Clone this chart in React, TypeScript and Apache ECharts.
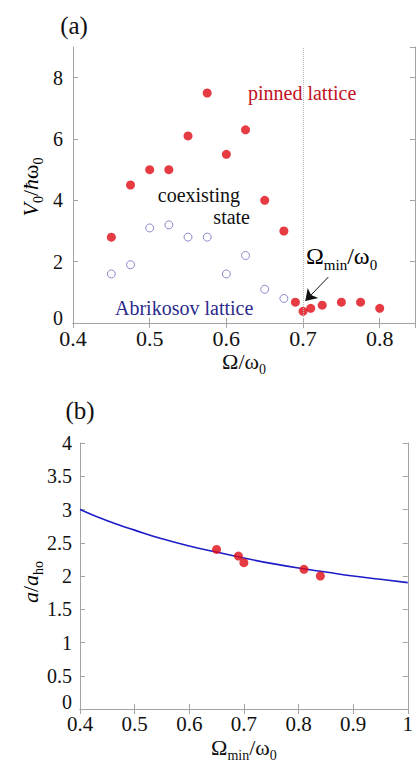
import { useEffect, useRef } from 'react';
import * as echarts from 'echarts';

// Panel (a): critical pinning potential vs rotation frequency
const pinnedX = [0.45, 0.475, 0.5, 0.525, 0.55, 0.575, 0.6, 0.625, 0.65, 0.675, 0.69, 0.7, 0.71, 0.725, 0.75, 0.775, 0.8];
const pinnedV = [2.8, 4.5, 5.0, 5.0, 6.1, 7.5, 5.5, 6.3, 4.0, 3.0, 0.68, 0.38, 0.48, 0.58, 0.68, 0.68, 0.48];
const abriX = [0.45, 0.475, 0.5, 0.525, 0.55, 0.575, 0.6, 0.625, 0.65, 0.675];
const abriV = [1.6, 1.9, 3.1, 3.2, 2.8, 2.8, 1.6, 2.2, 1.1, 0.8];
const omegaMinLine = 0.7;
const arrowFrom = [0.733, 1.5];
const arrowTo = [0.703, 0.72];

// Panel (b): lattice spacing vs Omega_min
const omegaMinX = [0.65, 0.69, 0.7, 0.81, 0.84];
const latticeA = [2.4, 2.3, 2.2, 2.1, 2.0];
const curveX = [0.4, 0.45, 0.5, 0.55, 0.6, 0.65, 0.7, 0.75, 0.8, 0.85, 0.9, 0.95, 1.0];
const curveA = [3.0, 2.83, 2.69, 2.56, 2.45, 2.36, 2.27, 2.19, 2.12, 2.06, 2.0, 1.95, 1.9];

const SERIF = 'Liberation Serif';
const AXIS_COLOR = '#a3a3a3';
const RED = '#e00a14';

export default function App() {
  const ref = useRef<HTMLDivElement>(null);

  useEffect(() => {
    if (!ref.current) return;
    const chart = echarts.init(ref.current, null, { renderer: 'svg' });

    const axisCommon = (extra: any) => ({
      type: 'value',
      nameMoveOverlap: false,
      axisLine: { show: true, lineStyle: { color: AXIS_COLOR, width: 1 } },
      axisTick: { show: true, inside: true, length: 5, lineStyle: { color: AXIS_COLOR } },
      splitLine: { show: false },
      ...extra,
    });

    const subRich = (main: number, sub: number, lh: number) => ({
      m: { fontFamily: SERIF, fontSize: main, lineHeight: lh, color: '#111' },
      i: { fontFamily: SERIF, fontSize: main, lineHeight: lh, color: '#111', fontStyle: 'italic' },
      s: { fontFamily: SERIF, fontSize: sub, lineHeight: sub, color: '#111', verticalAlign: 'bottom' },
    });

    const zeroLift = (pad: number) => ({
      z: { fontFamily: SERIF, fontSize: 20, color: '#111', padding: [0, 0, pad, 0] },
    });

    const option: any = {
      animation: false,
      textStyle: { fontFamily: SERIF },
      grid: [
        { left: 73, top: 47, width: 342, height: 276 },
        { left: 80, top: 443, width: 333, height: 266 },
      ],
      xAxis: [
        axisCommon({
          gridIndex: 0, position: 'bottom', min: 0.4, max: 0.846, interval: 0.1,
          axisLabel: { show: true, fontFamily: SERIF, fontSize: 22, color: '#111', margin: 4, showMaxLabel: false },
          name: '{m|Ω/ω}{s|0}', nameLocation: 'middle', nameGap: 23,
          nameTextStyle: { rich: subRich(22, 14, 30) },
        }),
        axisCommon({
          gridIndex: 0, position: 'top', min: 0.4, max: 0.846, interval: 0.1,
          axisLabel: { show: false },
        }),
        axisCommon({
          gridIndex: 1, position: 'bottom', min: 0.4, max: 1, interval: 0.1,
          axisLabel: { show: true, fontFamily: SERIF, fontSize: 21, color: '#111', margin: 4 },
          name: '{m|Ω}{s|min}{m|/ω}{s|0}', nameLocation: 'middle', nameGap: 23,
          nameTextStyle: { rich: subRich(22, 14, 30) },
        }),
        axisCommon({
          gridIndex: 1, position: 'top', min: 0.4, max: 1, interval: 0.1,
          axisLabel: { show: false },
        }),
      ],
      yAxis: [
        axisCommon({
          gridIndex: 0, position: 'left', min: 0, max: 9, interval: 2,
          axisLabel: {
            show: true, fontFamily: SERIF, fontSize: 20, color: '#111', margin: 10, showMaxLabel: false,
            formatter: (v: number) => (v === 0 ? '{z|0}' : String(v)), rich: zeroLift(10),
          },
        }),
        axisCommon({
          gridIndex: 0, position: 'right', min: 0, max: 9, interval: 2,
          axisLabel: { show: false },
        }),
        axisCommon({
          gridIndex: 1, position: 'left', min: 0, max: 4, interval: 0.5,
          axisLabel: {
            show: true, fontFamily: SERIF, fontSize: 20, color: '#111', margin: 8,
            formatter: (v: number) => (v === 0 ? '{z|0}' : String(v)), rich: zeroLift(14),
          },
        }),
        axisCommon({
          gridIndex: 1, position: 'right', min: 0, max: 4, interval: 0.5,
          axisLabel: { show: false },
        }),
      ],
      series: [
        {
          name: 'Abrikosov lattice', type: 'scatter', xAxisIndex: 0, yAxisIndex: 0,
          data: abriX.map((x, i) => [x, abriV[i]]),
          symbol: 'circle', symbolSize: 8,
          itemStyle: { color: '#ffffff', borderColor: '#6e6ec0', borderWidth: 1 },
        },
        {
          name: 'pinned lattice', type: 'scatter', xAxisIndex: 0, yAxisIndex: 0,
          data: pinnedX.map((x, i) => [x, pinnedV[i]]),
          symbol: 'circle', symbolSize: 9,
          itemStyle: { color: RED },
          markLine: {
            silent: true, symbol: 'none', label: { show: false },
            lineStyle: { type: 'dotted', color: '#b8b8b8', width: 1 },
            data: [{ xAxis: omegaMinLine }],
          },
          z: 3,
        },
        {
          name: 'arrow', type: 'line', xAxisIndex: 0, yAxisIndex: 0, data: [],
          markLine: {
            silent: true, symbol: ['none', 'arrow'], symbolSize: 11, label: { show: false },
            lineStyle: { type: 'solid', color: '#111', width: 1 },
            data: [[{ coord: arrowFrom }, { coord: arrowTo }]],
          },
        },
        {
          name: 'fit', type: 'line', xAxisIndex: 2, yAxisIndex: 2,
          data: curveX.map((x, i) => [x, curveA[i]]),
          smooth: true, showSymbol: false, symbol: 'none',
          lineStyle: { color: '#1c1cc8', width: 1.6 },
        },
        {
          name: 'lattice spacing', type: 'scatter', xAxisIndex: 2, yAxisIndex: 2,
          data: omegaMinX.map((x, i) => [x, latticeA[i]]),
          symbol: 'circle', symbolSize: 9,
          itemStyle: { color: RED },
          z: 3,
        },
      ],
      graphic: [
        { type: 'text', x: 74, y: 25, style: { text: '(a)', fontFamily: SERIF, fontSize: 25, fill: '#111', align: 'center', verticalAlign: 'middle' } },
        { type: 'text', x: 80, y: 410, style: { text: '(b)', fontFamily: SERIF, fontSize: 25, fill: '#111', align: 'center', verticalAlign: 'middle' } },
        {
          type: 'text', x: 30, y: 187, rotation: Math.PI / 2,
          style: { text: '{i|V}{s|0}{m|/}{i|ħ}{m|ω}{s|0}', align: 'center', verticalAlign: 'middle', rich: subRich(22, 14, 30) },
        },
        {
          type: 'text', x: 30, y: 582, rotation: Math.PI / 2,
          style: { text: '{i|a}{m|/}{i|a}{s|ho}', align: 'center', verticalAlign: 'middle', rich: subRich(22, 14, 30) },
        },
        { type: 'text', x: 248, y: 93, style: { text: 'pinned lattice', fontFamily: SERIF, fontSize: 20, fill: '#c0121c', align: 'left', verticalAlign: 'middle' } },
        { type: 'text', x: 240, y: 195, style: { text: 'coexisting', fontFamily: SERIF, fontSize: 20, fill: '#111', align: 'right', verticalAlign: 'middle' } },
        { type: 'text', x: 250, y: 217, style: { text: 'state', fontFamily: SERIF, fontSize: 20, fill: '#111', align: 'right', verticalAlign: 'middle' } },
        { type: 'text', x: 115, y: 308, style: { text: 'Abrikosov lattice', fontFamily: SERIF, fontSize: 20, fill: '#2a2a8c', align: 'left', verticalAlign: 'middle' } },
        {
          type: 'text', x: 306, y: 256,
          style: {
            text: '{m|Ω}{s|min}{m|/ω}{s|0}', align: 'left', verticalAlign: 'middle',
            rich: subRich(24, 15, 32),
          },
        },
      ],
    };

    chart.setOption(option);
    return () => chart.dispose();
  }, []);

  return (
    <div
      ref={ref}
      style={{ position: 'fixed', left: 0, top: 0, width: 416, height: 767, background: '#ffffff' }}
    />
  );
}
